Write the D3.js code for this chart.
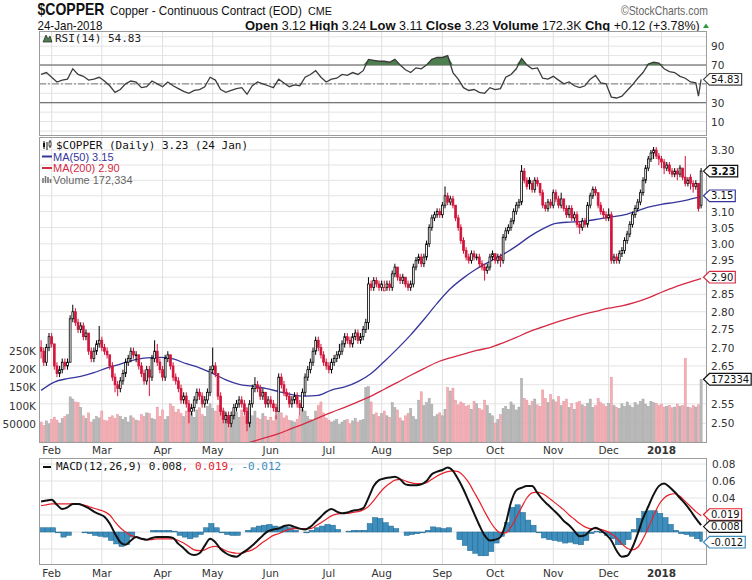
<!DOCTYPE html>
<html>
<head>
<meta charset="utf-8">
<script src="https://cdn.jsdelivr.net/npm/d3@7/dist/d3.min.js"></script>
<style>
  body { margin: 0; background: #fff; }
  svg text { font-family: "DejaVu Sans", sans-serif; }
  .narrow { font-family: "Liberation Sans", Arial, sans-serif; }
  .mono { font-family: "DejaVu Sans Mono", monospace; }
  .arial { font-family: "Liberation Sans", Arial, sans-serif; }
</style>
</head>
<body>
<div id="chart"></div>
<script>
// ---- data (trading-day index 0 = 26 Jan 2017, 250 = 24 Jan 2018) ----
const monthDays = [4, 23, 46, 65, 87, 109, 129, 152, 172, 194, 215, 235];
const monthLabels = ["Feb", "Mar", "Apr", "May", "Jun", "Jul", "Aug", "Sep", "Oct", "Nov", "Dec", "2018"];

const opens = [
  2.70,2.69,2.66,2.70,2.73,2.71,2.65,2.63,2.64,2.66, 2.65,2.66,2.78,2.80,2.77,2.75,2.76,2.73,2.74,2.69,
  2.67,2.69,2.71,2.72,2.70,2.69,2.68,2.65,2.62,2.60, 2.59,2.61,2.63,2.66,2.67,2.69,2.68,2.68,2.65,2.63,
  2.61,2.64,2.62,2.67,2.69,2.66,2.64,2.62,2.67,2.68, 2.65,2.62,2.61,2.59,2.56,2.57,2.55,2.53,2.54,2.56,
  2.58,2.57,2.55,2.56,2.58,2.64,2.65,2.63,2.57,2.53, 2.51,2.52,2.50,2.52,2.54,2.55,2.56,2.55,2.53,2.50,
  2.55,2.59,2.60,2.59,2.57,2.58,2.55,2.56,2.55,2.54, 2.53,2.62,2.60,2.58,2.57,2.55,2.56,2.57,2.55,2.54,
  2.58,2.62,2.64,2.66,2.69,2.72,2.70,2.68,2.66,2.65, 2.64,2.66,2.67,2.68,2.69,2.71,2.73,2.72,2.71,2.73,
  2.74,2.72,2.73,2.75,2.77,2.88,2.87,2.89,2.88,2.87, 2.86,2.87,2.88,2.87,2.91,2.93,2.90,2.89,2.90,2.88,
  2.87,2.88,2.93,2.95,2.96,2.94,2.96,3.00,3.05,3.08, 3.09,3.10,3.09,3.12,3.15,3.13,3.14,3.12,3.08,3.05,
  3.01,2.98,2.96,2.95,2.97,2.96,2.96,2.94,2.93,2.92, 2.93,2.96,2.97,2.95,2.96,2.95,3.02,3.04,3.05,3.07,
  3.10,3.12,3.13,3.23,3.20,3.20,3.19,3.17,3.20,3.19, 3.16,3.12,3.11,3.13,3.12,3.16,3.14,3.12,3.14,3.11,
  3.09,3.11,3.08,3.09,3.06,3.05,3.07,3.06,3.12,3.15, 3.17,3.16,3.12,3.10,3.09,3.08,3.09,2.95,2.96,2.95,
  2.97,2.98,3.01,3.03,3.06,3.09,3.11,3.13,3.16,3.20, 3.24,3.27,3.29,3.30,3.28,3.27,3.26,3.24,3.25,3.23,
  3.22,3.23,3.22,3.24,3.21,3.19,3.21,3.19,3.18,3.19, 3.12];
const highs = [
  2.72,2.70,2.71,2.74,2.74,2.71,2.66,2.65,2.67,2.67, 2.67,2.79,2.82,2.81,2.78,2.77,2.77,2.75,2.74,2.70,
  2.70,2.72,2.76,2.73,2.71,2.70,2.68,2.66,2.63,2.61, 2.62,2.64,2.67,2.68,2.70,2.70,2.69,2.68,2.66,2.64,
  2.65,2.65,2.68,2.72,2.71,2.67,2.65,2.68,2.69,2.68, 2.66,2.63,2.62,2.60,2.58,2.58,2.56,2.55,2.57,2.59,
  2.59,2.58,2.57,2.59,2.65,2.70,2.66,2.63,2.58,2.54, 2.53,2.53,2.53,2.55,2.56,2.57,2.57,2.56,2.54,2.56,
  2.60,2.62,2.61,2.60,2.59,2.58,2.57,2.57,2.56,2.55, 2.63,2.63,2.61,2.59,2.58,2.57,2.58,2.58,2.56,2.59,
  2.63,2.65,2.67,2.70,2.73,2.73,2.71,2.69,2.67,2.66, 2.67,2.68,2.69,2.71,2.72,2.74,2.74,2.73,2.74,2.75,
  2.75,2.74,2.76,2.78,2.90,2.89,2.90,2.90,2.89,2.89, 2.89,2.89,2.89,2.92,2.94,2.93,2.91,2.91,2.90,2.89,
  2.89,2.94,2.96,2.97,2.97,2.97,3.01,3.06,3.09,3.10, 3.11,3.11,3.13,3.18,3.16,3.15,3.15,3.12,3.09,3.06,
  3.02,2.99,2.97,2.98,2.98,2.97,2.97,2.95,2.94,2.94, 2.97,2.98,2.97,2.97,2.97,3.03,3.05,3.06,3.08,3.11,
  3.13,3.14,3.25,3.24,3.21,3.21,3.20,3.21,3.21,3.19, 3.17,3.13,3.14,3.14,3.17,3.17,3.15,3.16,3.14,3.12,
  3.12,3.12,3.10,3.10,3.07,3.08,3.08,3.13,3.16,3.18, 3.18,3.16,3.13,3.11,3.10,3.11,3.10,2.97,2.97,2.98,
  2.99,3.02,3.04,3.07,3.10,3.12,3.14,3.17,3.21,3.25, 3.28,3.30,3.31,3.31,3.29,3.28,3.27,3.26,3.26,3.24,
  3.24,3.24,3.25,3.24,3.28,3.21,3.22,3.20,3.20,3.19, 3.24];
const lows = [
  2.67,2.65,2.65,2.69,2.70,2.64,2.62,2.62,2.63,2.64, 2.64,2.66,2.77,2.76,2.74,2.74,2.72,2.72,2.68,2.66,
  2.66,2.68,2.70,2.69,2.68,2.67,2.64,2.61,2.58,2.57, 2.58,2.60,2.62,2.65,2.66,2.67,2.66,2.64,2.62,2.60,
  2.60,2.57,2.61,2.66,2.65,2.63,2.61,2.61,2.66,2.64, 2.61,2.60,2.58,2.55,2.55,2.54,2.50,2.52,2.53,2.55,
  2.56,2.54,2.54,2.55,2.57,2.63,2.62,2.56,2.52,2.50, 2.50,2.49,2.49,2.51,2.53,2.54,2.54,2.52,2.48,2.49,
  2.54,2.58,2.58,2.56,2.56,2.54,2.54,2.54,2.53,2.51, 2.53,2.59,2.57,2.56,2.54,2.54,2.55,2.54,2.52,2.53,
  2.57,2.61,2.63,2.65,2.68,2.69,2.67,2.65,2.64,2.63, 2.63,2.65,2.66,2.67,2.68,2.70,2.71,2.70,2.70,2.72,
  2.71,2.71,2.72,2.74,2.75,2.86,2.86,2.87,2.86,2.86, 2.86,2.86,2.86,2.86,2.90,2.89,2.88,2.88,2.87,2.86,
  2.86,2.87,2.92,2.94,2.93,2.93,2.95,2.99,3.04,3.07, 3.08,3.08,3.08,3.11,3.12,3.12,3.11,3.07,3.04,3.00,
  2.97,2.95,2.94,2.94,2.95,2.95,2.93,2.92,2.89,2.91, 2.92,2.95,2.94,2.94,2.93,2.94,3.01,3.03,3.04,3.06,
  3.09,3.11,3.12,3.19,3.17,3.17,3.16,3.16,3.18,3.15, 3.11,3.10,3.10,3.11,3.11,3.13,3.11,3.11,3.10,3.08,
  3.08,3.07,3.07,3.05,3.03,3.04,3.05,3.05,3.11,3.14, 3.15,3.11,3.09,3.08,3.07,3.07,2.94,2.94,2.94,2.94,
  2.96,2.97,3.00,3.02,3.05,3.08,3.10,3.12,3.15,3.19, 3.23,3.26,3.27,3.27,3.25,3.24,3.22,3.23,3.22,3.21,
  3.21,3.20,3.21,3.20,3.18,3.18,3.17,3.16,3.17,3.10, 3.11];
const closes = [
  2.69,2.66,2.70,2.73,2.71,2.65,2.63,2.64,2.66,2.65, 2.66,2.78,2.80,2.77,2.75,2.76,2.73,2.74,2.69,2.67,
  2.69,2.71,2.72,2.70,2.69,2.68,2.65,2.62,2.60,2.59, 2.61,2.63,2.66,2.67,2.69,2.68,2.68,2.65,2.63,2.61,
  2.64,2.62,2.67,2.69,2.66,2.64,2.62,2.67,2.68,2.65, 2.62,2.61,2.59,2.56,2.57,2.55,2.53,2.54,2.56,2.58,
  2.57,2.55,2.56,2.58,2.64,2.65,2.63,2.57,2.53,2.51, 2.52,2.50,2.52,2.54,2.55,2.56,2.55,2.53,2.50,2.55,
  2.59,2.60,2.59,2.57,2.58,2.55,2.56,2.55,2.54,2.53, 2.62,2.60,2.58,2.57,2.55,2.56,2.57,2.55,2.54,2.58,
  2.62,2.64,2.66,2.69,2.72,2.70,2.68,2.66,2.65,2.64, 2.66,2.67,2.68,2.69,2.71,2.73,2.72,2.71,2.73,2.74,
  2.72,2.73,2.75,2.77,2.88,2.87,2.89,2.88,2.87,2.88, 2.87,2.88,2.87,2.91,2.93,2.90,2.89,2.90,2.88,2.87,
  2.88,2.93,2.95,2.96,2.94,2.96,3.00,3.05,3.08,3.09, 3.10,3.09,3.12,3.15,3.13,3.14,3.12,3.08,3.05,3.01,
  2.98,2.96,2.95,2.97,2.96,2.96,2.94,2.93,2.92,2.93, 2.96,2.97,2.95,2.96,2.95,3.02,3.04,3.05,3.07,3.10,
  3.12,3.13,3.23,3.20,3.18,3.19,3.17,3.20,3.19,3.16, 3.12,3.11,3.13,3.12,3.16,3.14,3.12,3.14,3.11,3.09,
  3.11,3.08,3.09,3.06,3.05,3.07,3.06,3.12,3.15,3.17, 3.16,3.12,3.10,3.09,3.08,3.09,2.95,2.96,2.95,2.97,
  2.98,3.01,3.03,3.06,3.09,3.11,3.13,3.16,3.20,3.24, 3.27,3.29,3.30,3.28,3.27,3.26,3.24,3.25,3.23,3.22,
  3.23,3.22,3.24,3.21,3.19,3.20,3.19,3.18,3.19,3.11, 3.23];
// volume in thousands
const volumesK = [
  55,45,58,50,62,68,60,52,65,70, 75,124,118,110,108,95,72,65,80,55,
  62,70,66,85,60,58,68,72,65,75, 70,62,68,55,72,66,60,58,75,70,
  80,78,65,62,96,70,88,62,70,105, 98,82,90,78,70,85,92,80,68,88,
  94,75,70,98,105,92,85,100,95,88, 78,72,60,75,82,68,88,70,95,80,
  72,85,66,62,78,70,60,68,58,72, 95,80,66,72,60,58,55,62,72,90,
  85,70,62,58,85,100,110,80,66,60, 55,58,62,48,55,60,62,50,58,65,
  55,60,62,150,152,110,75,80,70,78, 85,72,68,108,95,88,66,58,72,78,
  92,70,62,115,138,100,108,120,104,70, 75,80,72,90,150,140,148,115,102,110,
  106,98,100,90,112,105,92,88,115,100, 78,72,52,62,75,92,98,90,110,102,
  88,96,175,120,115,100,112,118,102,98, 143,120,108,130,116,110,125,100,112,118,
  95,105,90,108,112,102,98,106,118,95, 100,120,108,104,98,106,178,100,95,92,
  105,98,110,100,95,108,102,112,118,104, 98,112,108,106,100,104,96,98,100,94,
  96,104,98,100,230,96,94,100,96,102, 172.334];

const ma50Days = d3.range(0, 251, 5);
const ma50 = [2.585,2.607,2.616,2.622,2.632,2.645,2.655,2.666,2.672,2.673, 2.669,2.656,2.645,2.630,2.613,2.601,2.596,2.590,2.582,2.574,
  2.570,2.572,2.586,2.594,2.608,2.630,2.662,2.697,2.735,2.778, 2.824,2.866,2.898,2.925,2.947,2.968,2.993,3.022,3.046,3.063,
  3.067,3.069,3.075,3.082,3.088,3.100,3.114,3.123,3.129,3.137, 3.148];
const ma200Days = d3.range(75, 251, 5);
const ma200 = [2.444,2.454,2.464,2.474,2.487,2.500,2.514,2.528,2.541,2.555, 2.570,2.588,2.606,2.625,2.643,2.660,2.672,2.682,2.692,2.700,
  2.713,2.728,2.744,2.757,2.770,2.781,2.792,2.801,2.810,2.817, 2.827,2.840,2.856,2.871,2.884,2.896];

const rsiDays = d3.range(0, 250, 2).concat([249, 250]);
const rsi = [60,62,57,52,54,55,66,60,58,54, 55,57,53,48,41,44,50,53,52,46, 47,53,50,47,52,48,45,42,40,43,
  44,47,57,54,44,41,43,45,46,39, 48,52,50,48,46,55,51,47,49,48, 57,60,64,57,52,55,56,60,59,62,
  60,64,76,75,74,74,73,76,70,65, 62,67,66,70,76,78,78,80,62,55, 46,43,44,41,40,46,44,45,57,60,
  66,77,70,66,67,56,55,58,54,50, 52,48,46,48,55,59,51,50,36,35, 37,43,49,56,62,71,73,72,66,63,
  62,58,56,52,51, 37,54.83];

const macdDays = d3.range(0, 251, 2);
const macd = [0.036,0.037,0.038,0.032,0.027,0.029,0.033,0.033,0.031,0.028, 0.024,0.021,0.018,0.010,-0.002,-0.012,-0.015,-0.010,-0.006,-0.008,
  -0.009,-0.007,-0.006,-0.006,-0.006,-0.007,-0.014,-0.019,-0.025,-0.027, -0.025,-0.016,-0.008,-0.012,-0.020,-0.025,-0.028,-0.029,-0.025,-0.021,
  -0.016,-0.010,-0.004,0.001,0.003,0.004,0.007,0.008,0.006,0.004, 0.003,0.006,0.012,0.018,0.024,0.027,0.024,0.022,0.023,0.025,
  0.026,0.028,0.040,0.054,0.061,0.063,0.064,0.065,0.062,0.056, 0.055,0.055,0.056,0.060,0.068,0.071,0.073,0.076,0.072,0.062,
  0.050,0.036,0.022,0.008,-0.004,-0.010,-0.009,-0.006,0.010,0.035, 0.049,0.052,0.054,0.054,0.046,0.038,0.032,0.026,0.020,0.013,
  0.008,0.001,-0.005,-0.004,0.002,0.005,0.002,-0.003,-0.010,-0.022, -0.029,-0.028,-0.018,-0.002,0.016,0.030,0.044,0.054,0.057,0.053,
  0.047,0.040,0.033,0.025,0.016,0.008];
const signal = [0.031,0.032,0.033,0.033,0.033,0.033,0.033,0.033,0.032,0.030, 0.028,0.026,0.024,0.020,0.012,0.005,0.000,-0.004,-0.006,-0.008,
  -0.009,-0.009,-0.008,-0.008,-0.008,-0.008,-0.010,-0.013,-0.017,-0.021, -0.022,-0.021,-0.018,-0.017,-0.019,-0.022,-0.024,-0.025,-0.025,-0.023,
  -0.021,-0.017,-0.012,-0.008,-0.004,-0.002,0.001,0.003,0.004,0.004, 0.004,0.004,0.007,0.011,0.015,0.019,0.021,0.022,0.022,0.023,
  0.024,0.026,0.030,0.037,0.045,0.052,0.057,0.061,0.062,0.060, 0.058,0.057,0.057,0.058,0.062,0.066,0.069,0.071,0.072,0.071,
  0.066,0.058,0.047,0.036,0.024,0.013,0.004,-0.001,-0.001,0.006, 0.017,0.029,0.040,0.046,0.047,0.045,0.041,0.036,0.031,0.026,
  0.020,0.015,0.010,0.006,0.004,0.004,0.003,0.001,-0.002,-0.007, -0.014,-0.019,-0.021,-0.018,-0.008,0.005,0.019,0.032,0.040,0.044,
  0.045,0.042,0.036,0.030,0.024,0.019];

const priceTicks = [2.50,2.55,2.60,2.65,2.70,2.75,2.80,2.85,2.90,2.95,3.00,3.05,3.10,3.15,3.20,3.25,3.30];
const volTicks = [50, 100, 150, 200, 250];
const volTickLabels = ["50000", "100K", "150K", "200K", "250K"];
const rsiGrid = [0,10,20,30,40,50,60,70,80,90,100];
const rsiTicks = [90, 70, 50, 30, 10];
const macdTicks = [0.08, 0.06, 0.04, 0.02, 0.00, -0.02];

// ---- layout ----
const left = 39, right = 707;
const rsiP = { top: 31, bottom: 136 };
const mainP = { top: 137, bottom: 443 };
const macdP = { top: 458, bottom: 565 };

const svg = d3.select("#chart").append("svg")
  .attr("width", 752).attr("height", 580).style("display", "block");

const x = d3.scaleLinear().domain([0, 250]).range([41.1, 701.1]);
const dayW = x(1) - x(0);
const rsiY = d3.scaleLinear().domain([0, 100]).range([131, 36.75]);
const priceY = d3.scaleLog().domain([2.50, 3.30]).range([423.3, 150]);
const volY = d3.scaleLinear().domain([0, 250]).range([442, 351]);
const macdY = d3.scaleLinear().domain([-0.02, 0.08]).range([549, 464]);

const RED = "#d2143a", BLUE = "#36369c", MAR = "#d42a44";

//panel background + grid
function panel(p, grid, yScale, id) {
  const g = svg.append("g");
  g.append("rect").attr("x", left).attr("y", p.top)
    .attr("width", right - left).attr("height", p.bottom - p.top).attr("fill", "#fff");
  g.selectAll(".h").data(grid).join("line").attr("class", "h")
    .attr("x1", left).attr("x2", right)
    .attr("y1", d => yScale(d)).attr("y2", d => yScale(d))
    .attr("stroke", "#e4e4e4").attr("stroke-width", 1);
  g.selectAll(".v").data(monthDays).join("line").attr("class", "v")
    .attr("x1", d => x(d)).attr("x2", d => x(d))
    .attr("y1", p.top).attr("y2", p.bottom)
    .attr("stroke", "#e0e0e0").attr("stroke-width", 1);
  svg.append("clipPath").attr("id", id).append("rect")
    .attr("x", left).attr("y", p.top).attr("width", right - left).attr("height", p.bottom - p.top);
  return svg.append("g").attr("clip-path", `url(#${id})`);
}
function frame(p) {
  svg.append("rect").attr("x", left + 0.5).attr("y", p.top + 0.5)
    .attr("width", right - left - 1).attr("height", p.bottom - p.top - 1)
    .attr("fill", "none").attr("stroke", "#9c9c9c");
}
// right-axis labels, leaving out the ones the value tags sit on
function rightTicks(ticks, scale, fmt, tagValues, xFn) {
  const free = ticks.filter(t => tagValues.every(v => Math.abs(scale(t) - scale(v)) > 10));
  svg.append("g").selectAll("text").data(free).join("text")
    .attr("x", xFn || 711).attr("y", d => scale(d) + 4).attr("font-size", 10.5).attr("fill", "#333")
    .text(fmt);
}
function tag(y, label, border, bold) {
  const g = svg.append("g");
  const shape = g.append("path");
  const t = g.append("text").attr("x", 711).attr("y", y + 3.6)
    .attr("font-size", 10).attr("font-weight", bold ? "bold" : null)
    .attr("fill", "#111").text(label);
  const w = t.node().getComputedTextLength();
  const x0 = 703.5, x1 = 711 + w + 2;
  shape.attr("d", `M${x0},${y} L${x0 + 6},${y - 5.8} L${x1},${y - 5.8} L${x1},${y + 5.8} L${x0 + 6},${y + 5.8} Z`)
    .attr("fill", "#fff").attr("stroke", border).attr("stroke-width", 1.2);
}
function monthAxis(yBase) {
  svg.append("g").selectAll("text").data(monthDays).join("text")
    .attr("x", d => x(d)).attr("y", yBase).attr("text-anchor", "middle")
    .attr("font-size", 10.5).attr("fill", "#333")
    .attr("font-weight", (d, i) => monthLabels[i] === "2018" ? "bold" : null)
    .text((d, i) => monthLabels[i]);
}
// header text in a condensed look: lay it out normally, then squeeze it sideways to the given width
function squeezed(x0, y0, size, width, parts, fill) {
  const g = svg.append("g");
  const t = g.append("text").attr("class", "narrow").attr("font-size", size).attr("fill", fill || "#111");
  parts.forEach(([str, bold, fs]) => {
    const s = t.append("tspan").text(str);
    if (bold) s.attr("font-weight", "bold");
    if (fs) s.attr("font-size", fs);
  });
  const len = t.node().getComputedTextLength();
  g.attr("transform", `translate(${x0},${y0}) scale(${width / len},1)`);
}

// ---- header ----
squeezed(37.5, 14.5, 16, 67, [["$COPPER", true]]);
squeezed(110, 15, 12.5, 192, [["Copper - Continuous Contract (EOD)"]]);
squeezed(308, 15, 11, 24, [["CME"]]);
squeezed(621, 14.5, 12, 87, [["©StockCharts.com"]], "#666");
squeezed(37.5, 29.5, 12, 65, [["24-Jan-2018"]]);
squeezed(245, 29.5, 12, 455, [["Open", true, 12.5], [" 3.12 "], ["High", true, 12.5], [" 3.24 "],
  ["Low", true, 12.5], [" 3.11 "], ["Close", true, 12.5], [" 3.23 "],
  ["Volume", true, 12.5], [" 172.3K "], ["Chg", true, 12.5], [" +0.12 (+3.78%)"]]);
svg.append("path").attr("d", "M703,28 L709,28 L706,23.5 Z").attr("fill", "#2e9a3c");

// ---- RSI panel ----
const rsiG = panel(rsiP, rsiGrid, rsiY, "clipRsi");
rsiG.append("line").attr("x1", left).attr("x2", right).attr("y1", rsiY(70)).attr("y2", rsiY(70))
  .attr("stroke", "#555");
rsiG.append("line").attr("x1", left).attr("x2", right).attr("y1", rsiY(30)).attr("y2", rsiY(30))
  .attr("stroke", "#555");
rsiG.append("line").attr("x1", left).attr("x2", right).attr("y1", rsiY(50)).attr("y2", rsiY(50))
  .attr("stroke", "#777").attr("stroke-dasharray", "7,2,2,2");
const rsiPts = rsiDays.map((d, i) => ({ d, v: rsi[i] }));
rsiG.append("path").datum(rsiPts)
  .attr("d", d3.area().x(p => x(p.d)).y0(rsiY(70)).y1(p => rsiY(Math.max(70, p.v))))
  .attr("fill", "#4f7f4f");
rsiG.append("path").datum(rsiPts)
  .attr("d", d3.line().x(p => x(p.d)).y(p => rsiY(p.v)))
  .attr("fill", "none").attr("stroke", "#3c3c3c").attr("stroke-width", 1.3);
frame(rsiP);
svg.append("path").attr("d", "M43,42 L46,35 L48,39 L50,36 L52,42 Z")
  .attr("fill", "#4f7f4f").attr("stroke", "#222").attr("stroke-width", 0.7);
svg.append("text").attr("class", "mono").attr("x", 55).attr("y", 42)
  .attr("font-size", 11).attr("fill", "#222").text("RSI(14) 54.83");
rightTicks(rsiTicks, rsiY, d => d, [54.83]);
tag(rsiY(54.83), "54.83", "#444", false);

// ---- price + volume panel ----
const mainG = panel(mainP, priceTicks, priceY, "clipMain");
const bars = closes.map((c, i) => ({
  i, o: opens[i], h: highs[i], l: lows[i], c, v: volumesK[i],
  up: i === 0 ? c >= opens[i] : c >= closes[i - 1]
}));
mainG.append("g").selectAll("rect").data(bars).join("rect")
  .attr("x", d => x(d.i) - 1.05).attr("width", 2.1)
  .attr("y", d => volY(d.v)).attr("height", d => volY(0) - volY(d.v))
  .attr("fill", d => d.up ? "#b9b9b9" : "#f3b0b7")
  .attr("stroke", d => d.up ? "#a3a3a3" : "#e8939c").attr("stroke-width", 0.5);

mainG.append("path").datum(ma200Days.map((d, i) => [d, ma200[i]]))
  .attr("d", d3.line().x(p => x(p[0])).y(p => priceY(p[1])).curve(d3.curveMonotoneX))
  .attr("fill", "none").attr("stroke", MAR).attr("stroke-width", 1.3);
mainG.append("path").datum(ma50Days.map((d, i) => [d, ma50[i]]))
  .attr("d", d3.line().x(p => x(p[0])).y(p => priceY(p[1])).curve(d3.curveMonotoneX))
  .attr("fill", "none").attr("stroke", BLUE).attr("stroke-width", 1.3);

const candles = mainG.append("g").selectAll("g").data(bars).join("g");
candles.append("line")
  .attr("x1", d => x(d.i)).attr("x2", d => x(d.i))
  .attr("y1", d => priceY(d.h)).attr("y2", d => priceY(d.l))
  .attr("stroke", d => d.up ? "#000" : RED).attr("stroke-width", 1);
candles.append("rect")
  .attr("x", d => x(d.i) - 0.9).attr("width", 1.8)
  .attr("y", d => priceY(Math.max(d.o, d.c)))
  .attr("height", d => Math.max(0.8, priceY(Math.min(d.o, d.c)) - priceY(Math.max(d.o, d.c))))
  .attr("fill", d => d.c < d.o ? (d.up ? "#000" : RED) : "#fff")
  .attr("stroke", d => d.up ? "#000" : RED).attr("stroke-width", 0.8);
frame(mainP);

// volume tag sits on the price axis, so translate it to a price for the collision test
rightTicks(priceTicks, priceY, d => d.toFixed(2), [3.23, 3.15, 2.90, priceY.invert(volY(172.334))]);
svg.append("g").selectAll("text").data(volTicks).join("text")
  .attr("x", 36).attr("y", d => volY(d) + 4).attr("text-anchor", "end")
  .attr("font-size", 10.5).attr("fill", "#333")
  .text((d, i) => volTickLabels[i]);
tag(priceY(3.23), "3.23", "#111", true);
tag(priceY(3.15), "3.15", BLUE, false);
tag(priceY(2.90), "2.90", MAR, false);
tag(volY(172.334), "172334", "#111", false);

// legend
const lg = svg.append("g");
lg.append("path").attr("d", "M44,141 V149 M47,142 V150 M50,140 V148").attr("stroke", "#111").attr("stroke-width", 1);
lg.append("rect").attr("x", 43).attr("y", 143).attr("width", 2).attr("height", 4).attr("fill", "#111");
lg.append("rect").attr("x", 49).attr("y", 142).attr("width", 2).attr("height", 4).attr("fill", "#fff").attr("stroke", "#111").attr("stroke-width", 0.7);
lg.append("text").attr("class", "mono").attr("x", 56).attr("y", 149).attr("font-size", 11)
  .attr("fill", "#111").text("$COPPER (Daily) 3.23 (24 Jan)");
lg.append("line").attr("x1", 42).attr("x2", 52).attr("y1", 156.5).attr("y2", 156.5).attr("stroke", BLUE).attr("stroke-width", 2);
lg.append("text").attr("class", "arial").attr("x", 53).attr("y", 160.5).attr("font-size", 11)
  .attr("fill", BLUE).text("MA(50) 3.15");
lg.append("line").attr("x1", 42).attr("x2", 52).attr("y1", 168).attr("y2", 168).attr("stroke", MAR).attr("stroke-width", 2);
lg.append("text").attr("class", "arial").attr("x", 53).attr("y", 172).attr("font-size", 11)
  .attr("fill", MAR).text("MA(200) 2.90");
lg.append("path").attr("d", "M43,183 V178 M45.5,183 V176 M48,183 V177 M50.5,183 V179")
  .attr("stroke", "#777").attr("stroke-width", 1.6);
lg.append("text").attr("class", "arial").attr("x", 53).attr("y", 183.5).attr("font-size", 11)
  .attr("fill", "#666").text("Volume 172,334");

monthAxis(454);

// ---- MACD panel ----
const macdG = panel(macdP, macdTicks, macdY, "clipMacd");
const macdPts = macdDays.map((d, i) => ({ d, m: macd[i], s: signal[i], h: macd[i] - signal[i] }));
macdG.append("g").selectAll("rect").data(macdPts).join("rect")
  .attr("x", p => x(p.d) - dayW / 2)
  .attr("width", p => p.d === 250 ? dayW : dayW * 2)
  .attr("y", p => Math.min(macdY(0), macdY(p.h)))
  .attr("height", p => Math.abs(macdY(p.h) - macdY(0)))
  .attr("fill", "#3d8dbd").attr("stroke", "#21678f").attr("stroke-width", 0.5);
macdG.append("path").datum(macdPts)
  .attr("d", d3.line().x(p => x(p.d)).y(p => macdY(p.s)).curve(d3.curveMonotoneX))
  .attr("fill", "none").attr("stroke", "#e8212b").attr("stroke-width", 1.2);
macdG.append("path").datum(macdPts)
  .attr("d", d3.line().x(p => x(p.d)).y(p => macdY(p.m)).curve(d3.curveMonotoneX))
  .attr("fill", "none").attr("stroke", "#111").attr("stroke-width", 2);
frame(macdP);

rightTicks(macdTicks, macdY, d => d.toFixed(2), [0.019, 0.008, -0.012], d => d < 0 ? 709 : 712);
// the two upper tags sit ~9px apart; nudge them to 12px so the boxes don't collide
tag(macdY(0.019) - 1.3, "0.019", "#e8212b", false);
tag(macdY(0.008) + 1.4, "0.008", "#111", false);
tag(macdY(-0.012), "-0.012", "#3d8dbd", false);

svg.append("line").attr("x1", 43).attr("x2", 51).attr("y1", 467).attr("y2", 467).attr("stroke", "#111").attr("stroke-width", 2);
const ml = svg.append("text").attr("class", "mono").attr("x", 56).attr("y", 470).attr("font-size", 11);
ml.append("tspan").attr("fill", "#111").text("MACD(12,26,9) 0.008");
ml.append("tspan").attr("fill", "#e8212b").text(", 0.019");
ml.append("tspan").attr("fill", "#3d8dbd").text(", -0.012");

monthAxis(577);
</script>
</body>
</html>
